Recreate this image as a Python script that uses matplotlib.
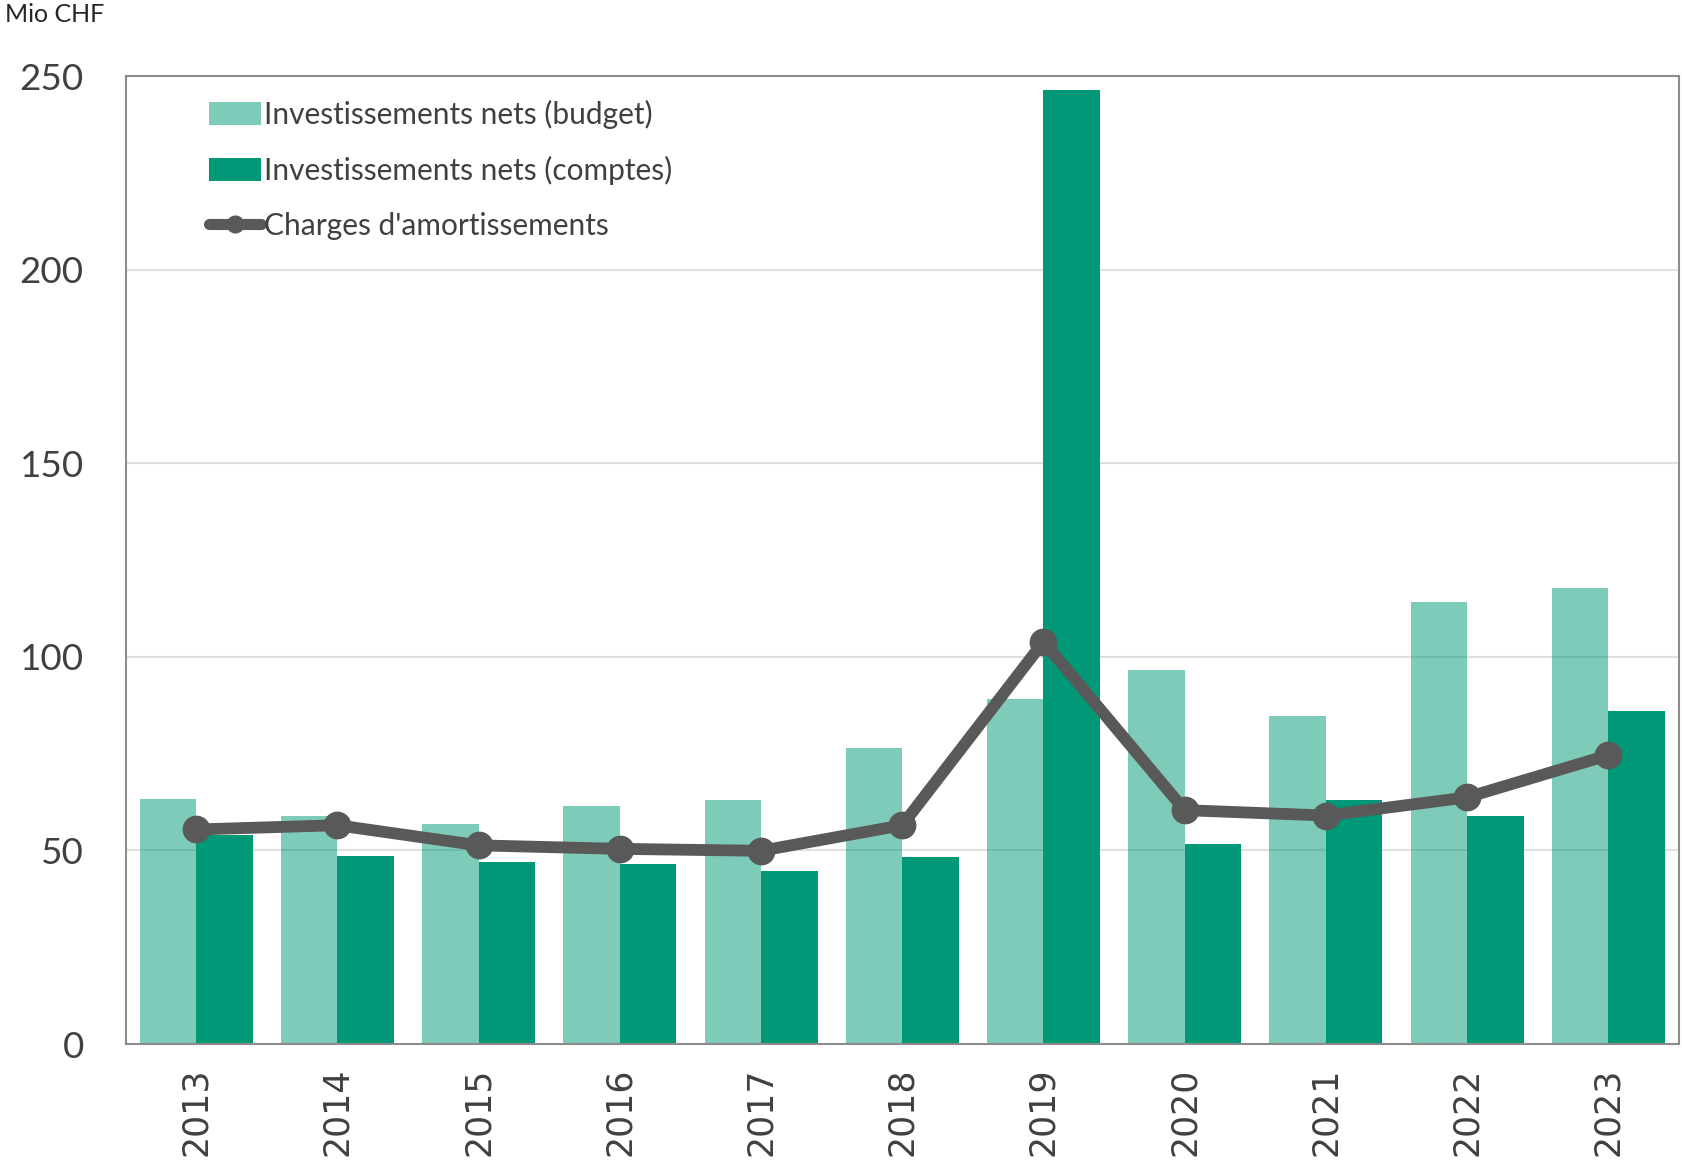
import matplotlib
matplotlib.use("Agg")
import matplotlib.pyplot as plt
import numpy as np
from matplotlib.lines import Line2D
from matplotlib.patches import Patch

years = ["2013", "2014", "2015", "2016", "2017", "2018", "2019", "2020", "2021", "2022", "2023"]
budget = [63.2, 59.0, 56.8, 61.5, 62.9, 76.5, 89.2, 96.7, 84.8, 114.2, 117.8]
comptes = [54.0, 48.5, 47.1, 46.6, 44.6, 48.2, 246.4, 51.6, 62.9, 59.0, 85.9]
amort = [55.4, 56.5, 51.3, 50.4, 49.9, 56.5, 103.9, 60.4, 59.0, 63.7, 74.6]
yticks = [0, 50, 100, 150, 200, 250]

green = "#009877"
gray_line = "#595959"
txt = "#404040"

fig = plt.figure(figsize=(16.82, 11.63), dpi=100)
ax = fig.add_axes([125.5/1682, 1 - 1044/1163, (1679-125.5)/1682, (1044-76)/1163])

x = np.arange(len(years))
w = 0.4
ax.set_axisbelow(True)
ax.grid(axis="y", color="#e0e0e0", linewidth=1.5)
ax.bar(x - w/2, budget, width=w, color=green, alpha=0.5, zorder=2)
ax.bar(x + w/2, comptes, width=w, color=green, zorder=2)
ax.plot(x, amort, color=gray_line, linewidth=8.5, marker="o", markersize=19,
        zorder=4, solid_capstyle="round")

ax.set_xlim(-0.5, len(years) - 0.5)
ax.set_ylim(0, 250)
ax.set_yticks(yticks)
ax.set_yticklabels([str(t) for t in yticks], fontsize=26.5, color=txt, family="Lato")
ax.set_xticks(x)
ax.set_xticklabels(years, rotation=90, fontsize=25, color=txt, family="DejaVu Sans")
ax.tick_params(axis="y", length=0, pad=30)
ax.tick_params(axis="x", length=0, pad=17)
for s in ax.spines.values():
    s.set_color("#8c8c8c")
    s.set_linewidth(1.5)

handles = [
    Patch(facecolor=green, alpha=0.5, edgecolor="none"),
    Patch(facecolor=green, edgecolor="none"),
    Line2D([0], [0], color=gray_line, linewidth=8, marker="o", markersize=12, solid_capstyle="round"),
]
labels = ["Investissements nets (budget)", "Investissements nets (comptes)", "Charges d'amortissements"]
leg = ax.legend(handles, labels, loc="upper left", bbox_to_anchor=(0.04, 0.997),
                frameon=False, prop={"family": "Lato", "size": 21.5},
                handlelength=1.75, handleheight=0.85, handletextpad=0.1,
                labelspacing=0.9, borderaxespad=0.3)
for t in leg.get_texts():
    t.set_color(txt)

fig.text(5/1682, 1 - 14/1163, "Mio CHF", fontsize=18, color="#262626",
         family="Lato", va="center", ha="left")

fig.savefig("out.png", dpi=100)
